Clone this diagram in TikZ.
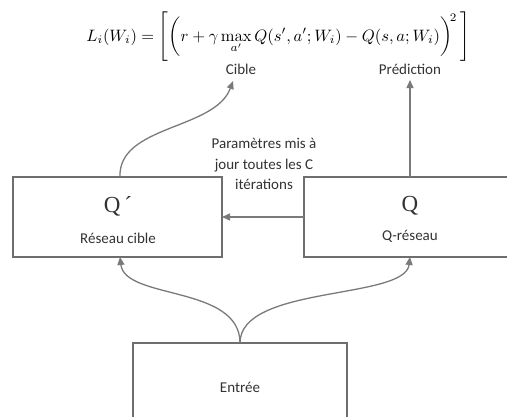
\documentclass[tikz,border=0pt]{standalone}
\usepackage{amsmath}
\usepackage[no-math]{fontspec}
\setmainfont{Carlito}
\newfontfamily\qfont{Liberation Serif}
\usetikzlibrary{arrows.meta}
\definecolor{txt}{HTML}{333333}
\definecolor{ln}{HTML}{7A7A7A}
\definecolor{bx}{HTML}{6E6E6E}
\begin{document}
\begin{tikzpicture}[x=1pt,y=-1pt,
  netbox/.style={draw=bx,line width=1.3pt,minimum width=209pt,minimum height=80pt,inner sep=0pt},
  lbl/.style={text=txt,font=\fontsize{15}{17}\selectfont,inner sep=1pt},
  conn/.style={draw=ln,line width=1.3pt,-{Triangle[length=8pt,width=7pt]}}]
\useasboundingbox (0,0) rectangle (507,416);
\fill[white] (0,0) rectangle (507,416);
\node[netbox] (qp) at (117.5,217) {};
\draw[draw=bx,line width=1.3pt] (508,177) -- (304,177) -- (304,257) -- (508,257);
\node[inner sep=0pt,minimum width=203pt,minimum height=80pt] (q) at (405.5,217) {};
\node[netbox,minimum width=214pt,minimum height=90pt] (in) at (240,388) {};
\node[text=txt,font=\qfont\fontsize{23}{26}\selectfont] (qpl) at (118,206) {Q\,´};
\node[lbl] (qpt) at (118,238) {Réseau cible};
\node[text=txt,font=\qfont\fontsize{23}{26}\selectfont] (ql) at (410,206) {Q};
\node[lbl] (qt) at (410,236) {Q-réseau};
\node[lbl] (int) at (240,387) {Entrée};
\node[text=black,inner sep=0pt] (eq) at (278,37) {\scalebox{1.65}{$\displaystyle L_i(W_i)=\Biggl[\biggl(r+\gamma\max_{a'}Q(s',a';W_i)-Q(s,a;W_i)\biggr)^{\!2}\,\Biggr]$}};
\node[lbl] (cib) at (241,69) {Cible};
\node[lbl] (pre) at (410,69) {Prédiction};
\node[lbl,align=center,font=\fontsize{15}{20.5}\selectfont] (par) at (264,164) {Paramètres mis à\\jour toutes les C\\itérations};
\coordinate (qptop) at (120,177);
\coordinate (cibt) at (233,81);
\draw[conn] (qptop) .. controls (118,125) and (215,130) .. (cibt);
\coordinate (qtop) at (410,177);
\coordinate (pret) at (410,80);
\draw[conn] (qtop) -- (pret);
\coordinate (qleft) at (304,217);
\coordinate (qpright) at (222,217);
\draw[conn] (qleft) -- (qpright);
\coordinate (intop) at (240,343);
\coordinate (qpbot) at (120,257);
\coordinate (qbot) at (410,257);
\draw[conn] (intop) .. controls (240,285) and (125,300) .. (qpbot);
\draw[conn] (intop) .. controls (240,285) and (405,300) .. (qbot);
\end{tikzpicture}
\end{document}
